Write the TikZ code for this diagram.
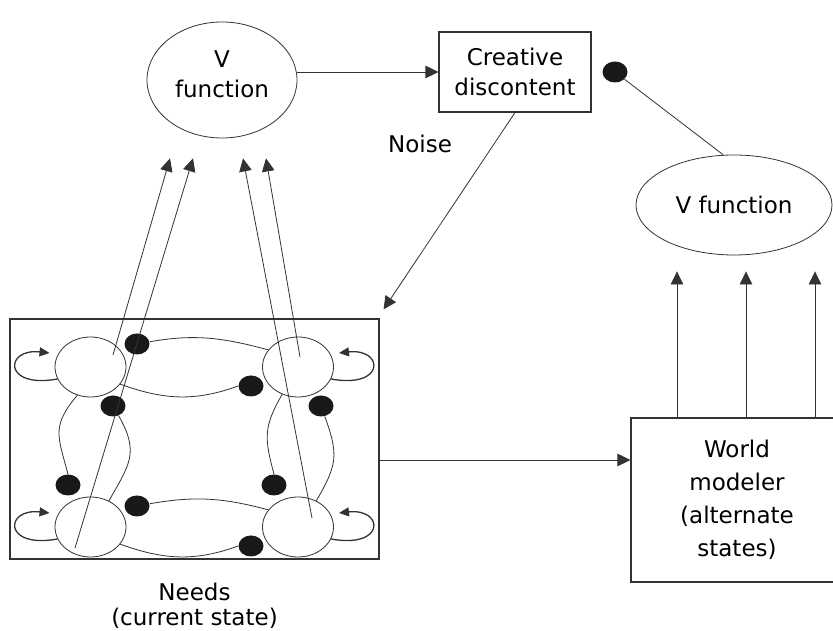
\documentclass[tikz,border=0pt]{standalone}
\usepackage{fontspec}
\setmainfont{DejaVu Sans}
\usetikzlibrary{arrows.meta,shapes.geometric,positioning}
\tikzset{
  every node/.style={font=\fontsize{23}{30}\selectfont, text=black},
  arr/.style={-{Triangle[length=13pt,width=12.5pt]}},
  looparr/.style={line width=1.3pt,-{Triangle[length=10pt,width=9pt]}},
  box/.style={draw, line width=1.1pt, rectangle, align=center},
  oval/.style={draw, ellipse, align=center},
  need/.style={draw, ellipse, minimum width=71pt, minimum height=60pt, inner sep=0pt},
  blob/.style={fill=black!90, ellipse, minimum width=25pt, minimum height=21pt, inner sep=0pt},
}

\begin{document}
\begin{tikzpicture}[x=1pt,y=1pt,line width=0.8pt,color=black!80]

\useasboundingbox (0,0) rectangle (833,631);
\fill[white] (0,0) rectangle (833,631);
\clip (0,0) rectangle (833,631);

% top row
\node[oval, minimum width=150pt, minimum height=116pt] (vf1) at (222,551)
  {V\\function\\[-18pt]\mbox{}}; % text sits a bit high
\node[box, minimum width=152pt, minimum height=80pt] (cd) at (515,559) {Creative\\discontent};
\node[blob] (d0) at (615,559) {};
\node[oval, minimum width=196pt, minimum height=100pt] (vf2) at (734,426) {V function};
\node (noise) at (420,487) {Noise};

% world modeler (runs off the right edge)
\node[box, minimum width=212pt, minimum height=164pt,
      font=\fontsize{23}{33}\selectfont] (wm) at (737,131)
      {World\\modeler\\(alternate\\states)};

% needs box and its four units
\node[box, minimum width=369pt, minimum height=240pt] (needs) at (194.5,192) {};
\node[below=23pt of needs, inner sep=0pt, align=center,
      font=\fontsize{23}{25}\selectfont] (needslbl) {Needs\\(current state)};
\node[need] (n1) at (90.5,264) {};
\node[need] (n2) at (298,264) {};
\node[need] (n3) at (90.5,104) {};
\node[need] (n4) at (298,104) {};
\foreach \nm/\px/\py in {d1/137/287, d2/251/245, d3/113/225, d4/68/146,
                         d5/137/125, d6/251/85, d7/274/146, d8/321/225}
  \node[blob] (\nm) at (\px,\py) {};

% inhibitory links
\draw (d1) to[out=10,in=165] (n2.150);
\draw (d5) to[out=10,in=165] (n4.150);
\draw (n1.-30) to[out=-20,in=200] (d2.west);
\draw (n3.-30) to[out=-20,in=200] (d6.west);
\draw (n1.-115) to[out=-130,in=105,looseness=1.3] (d4.north);
\draw (n2.-120) to[out=-120,in=105,looseness=1.2] (d7.north);
\draw (d3) to[out=-60,in=60,looseness=1.25] (n3.55);
\draw (d8) to[out=-70,in=60,looseness=1.25] (n4.55);

% self loops
\foreach \n/\s/\a/\b in {n1/-1/200/160, n3/-1/200/160, n2/1/-20/20, n4/1/-20/20}
  \draw[looparr] (\n.\a) .. controls +({\s*55},-10) and +({\s*45},5)
        .. ([shift={({\s*8},2)}]\n.\b);

% up to the first V function
\draw[arr] ([shift={(22.5,12)}]n1.center) -- ([shift={(-52,-20)}]vf1.south);
\draw[arr] ([shift={(-15.5,-21)}]n3.center) -- ([shift={(-29,-20)}]vf1.south);
\draw[arr] ([shift={(14,9)}]n4.center) -- ([shift={(21,-20)}]vf1.south);
\draw[arr] ([shift={(2,10)}]n2.center) -- ([shift={(44,-20)}]vf1.south);

\draw[arr] (cd.west -| vf1.east) -- (cd.west);
\draw[arr] (cd.south) -- ([shift={(4,9)}]needs.north east);
\draw (d0) -- (vf2.102);

\coordinate (lnk) at ([yshift=-21pt]needs.east);
\draw[arr] (lnk) -- (lnk -| wm.west);
\foreach \x in {-60,9,78}
  \draw[arr] ([xshift=\x]wm.north) -- ++(0,146);

\end{tikzpicture}
\end{document}
